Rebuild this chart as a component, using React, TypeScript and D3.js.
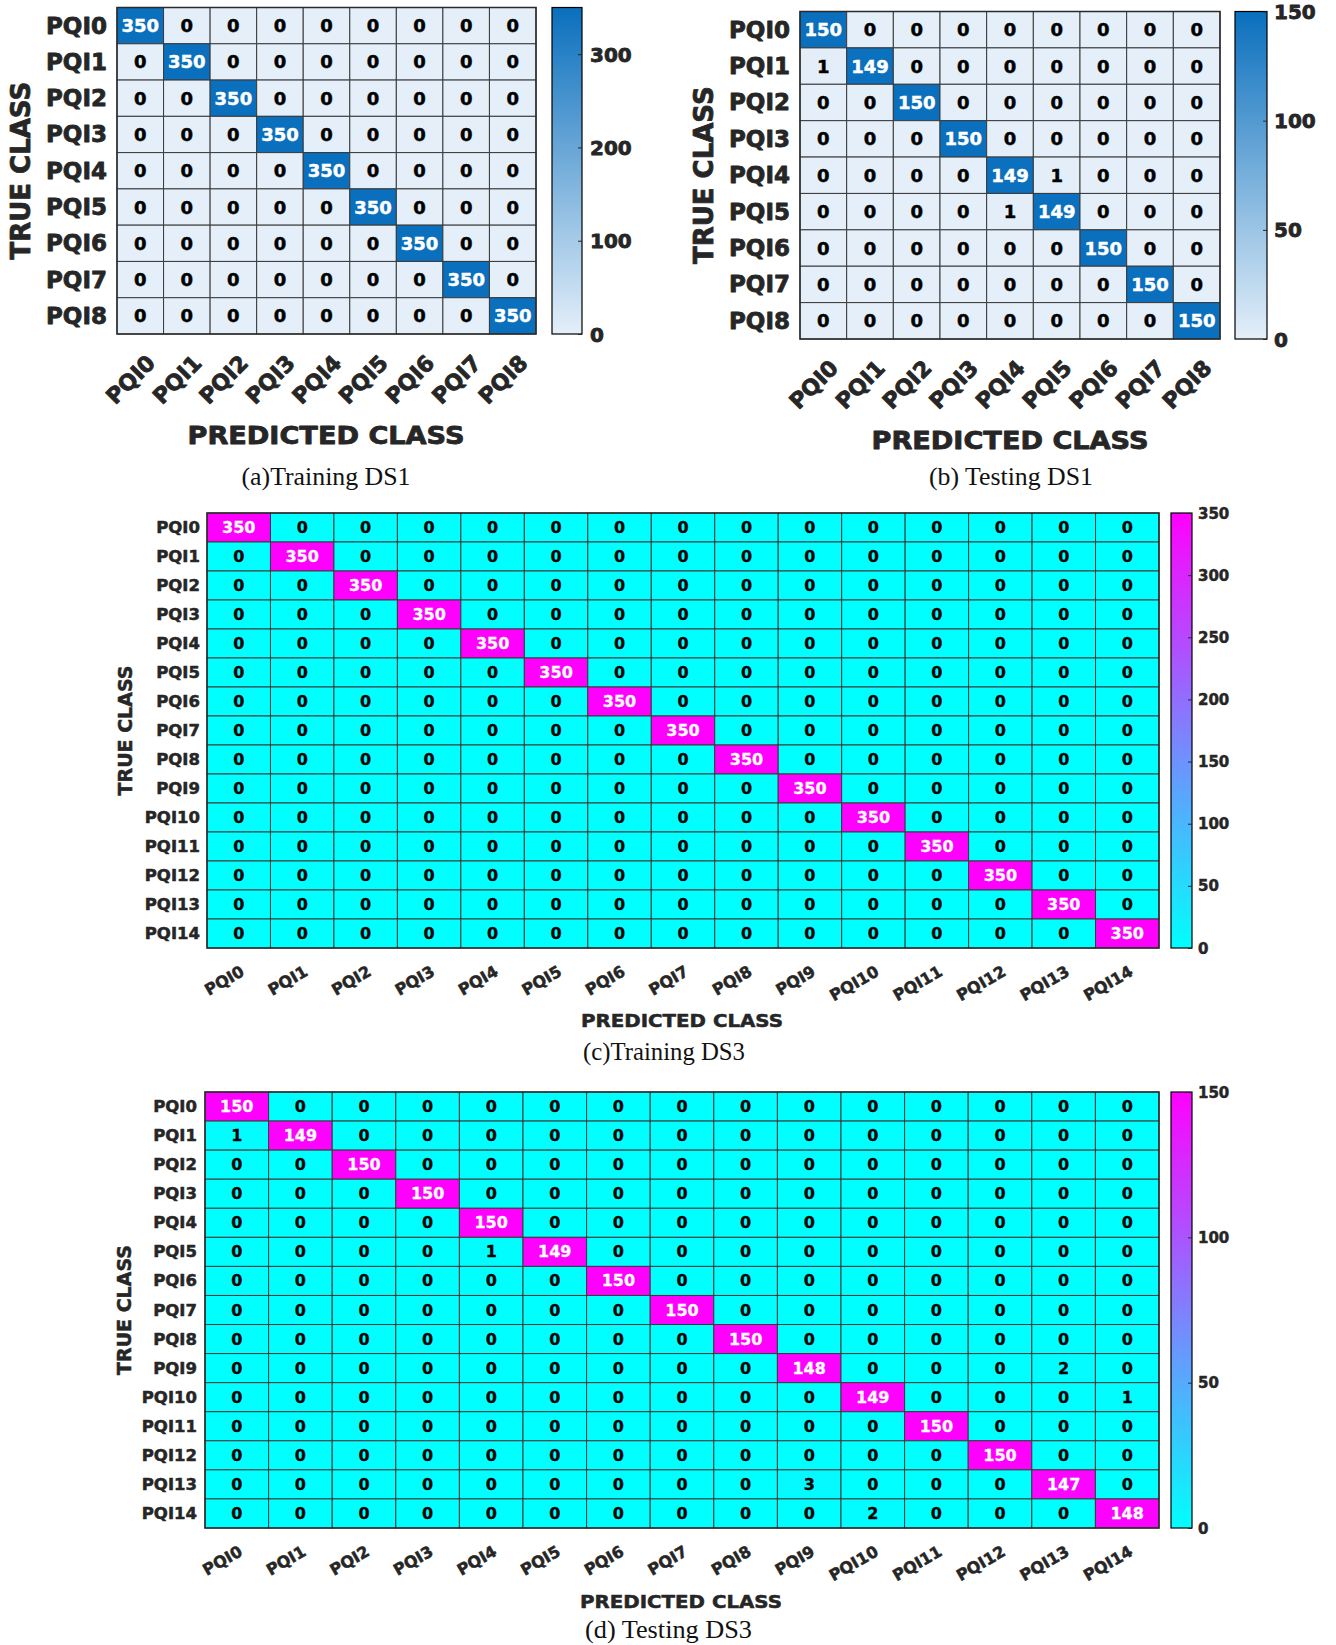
import React, { useEffect, useRef } from "react";
import * as d3 from "d3";

// class names
const CLASSES_9 = ["PQI0", "PQI1", "PQI2", "PQI3", "PQI4", "PQI5", "PQI6", "PQI7", "PQI8"];
const CLASSES_15 = [
  "PQI0", "PQI1", "PQI2", "PQI3", "PQI4", "PQI5", "PQI6", "PQI7",
  "PQI8", "PQI9", "PQI10", "PQI11", "PQI12", "PQI13", "PQI14",
];

// confusion matrices (rows = true class, cols = predicted class)
const TRAIN_DS1 = [
  [350, 0, 0, 0, 0, 0, 0, 0, 0],
  [0, 350, 0, 0, 0, 0, 0, 0, 0],
  [0, 0, 350, 0, 0, 0, 0, 0, 0],
  [0, 0, 0, 350, 0, 0, 0, 0, 0],
  [0, 0, 0, 0, 350, 0, 0, 0, 0],
  [0, 0, 0, 0, 0, 350, 0, 0, 0],
  [0, 0, 0, 0, 0, 0, 350, 0, 0],
  [0, 0, 0, 0, 0, 0, 0, 350, 0],
  [0, 0, 0, 0, 0, 0, 0, 0, 350],
];

const TEST_DS1 = [
  [150, 0, 0, 0, 0, 0, 0, 0, 0],
  [1, 149, 0, 0, 0, 0, 0, 0, 0],
  [0, 0, 150, 0, 0, 0, 0, 0, 0],
  [0, 0, 0, 150, 0, 0, 0, 0, 0],
  [0, 0, 0, 0, 149, 1, 0, 0, 0],
  [0, 0, 0, 0, 1, 149, 0, 0, 0],
  [0, 0, 0, 0, 0, 0, 150, 0, 0],
  [0, 0, 0, 0, 0, 0, 0, 150, 0],
  [0, 0, 0, 0, 0, 0, 0, 0, 150],
];

const TRAIN_DS3 = [
  [350, 0, 0, 0, 0, 0, 0, 0, 0, 0, 0, 0, 0, 0, 0],
  [0, 350, 0, 0, 0, 0, 0, 0, 0, 0, 0, 0, 0, 0, 0],
  [0, 0, 350, 0, 0, 0, 0, 0, 0, 0, 0, 0, 0, 0, 0],
  [0, 0, 0, 350, 0, 0, 0, 0, 0, 0, 0, 0, 0, 0, 0],
  [0, 0, 0, 0, 350, 0, 0, 0, 0, 0, 0, 0, 0, 0, 0],
  [0, 0, 0, 0, 0, 350, 0, 0, 0, 0, 0, 0, 0, 0, 0],
  [0, 0, 0, 0, 0, 0, 350, 0, 0, 0, 0, 0, 0, 0, 0],
  [0, 0, 0, 0, 0, 0, 0, 350, 0, 0, 0, 0, 0, 0, 0],
  [0, 0, 0, 0, 0, 0, 0, 0, 350, 0, 0, 0, 0, 0, 0],
  [0, 0, 0, 0, 0, 0, 0, 0, 0, 350, 0, 0, 0, 0, 0],
  [0, 0, 0, 0, 0, 0, 0, 0, 0, 0, 350, 0, 0, 0, 0],
  [0, 0, 0, 0, 0, 0, 0, 0, 0, 0, 0, 350, 0, 0, 0],
  [0, 0, 0, 0, 0, 0, 0, 0, 0, 0, 0, 0, 350, 0, 0],
  [0, 0, 0, 0, 0, 0, 0, 0, 0, 0, 0, 0, 0, 350, 0],
  [0, 0, 0, 0, 0, 0, 0, 0, 0, 0, 0, 0, 0, 0, 350],
];

const TEST_DS3 = [
  [150, 0, 0, 0, 0, 0, 0, 0, 0, 0, 0, 0, 0, 0, 0],
  [1, 149, 0, 0, 0, 0, 0, 0, 0, 0, 0, 0, 0, 0, 0],
  [0, 0, 150, 0, 0, 0, 0, 0, 0, 0, 0, 0, 0, 0, 0],
  [0, 0, 0, 150, 0, 0, 0, 0, 0, 0, 0, 0, 0, 0, 0],
  [0, 0, 0, 0, 150, 0, 0, 0, 0, 0, 0, 0, 0, 0, 0],
  [0, 0, 0, 0, 1, 149, 0, 0, 0, 0, 0, 0, 0, 0, 0],
  [0, 0, 0, 0, 0, 0, 150, 0, 0, 0, 0, 0, 0, 0, 0],
  [0, 0, 0, 0, 0, 0, 0, 150, 0, 0, 0, 0, 0, 0, 0],
  [0, 0, 0, 0, 0, 0, 0, 0, 150, 0, 0, 0, 0, 0, 0],
  [0, 0, 0, 0, 0, 0, 0, 0, 0, 148, 0, 0, 0, 2, 0],
  [0, 0, 0, 0, 0, 0, 0, 0, 0, 0, 149, 0, 0, 0, 1],
  [0, 0, 0, 0, 0, 0, 0, 0, 0, 0, 0, 150, 0, 0, 0],
  [0, 0, 0, 0, 0, 0, 0, 0, 0, 0, 0, 0, 150, 0, 0],
  [0, 0, 0, 0, 0, 0, 0, 0, 0, 3, 0, 0, 0, 147, 0],
  [0, 0, 0, 0, 0, 0, 0, 0, 0, 0, 2, 0, 0, 0, 148],
];

const TICKS_350_BIG = [0, 100, 200, 300];
const TICKS_150 = [0, 50, 100, 150];
const TICKS_350_FINE = [0, 50, 100, 150, 200, 250, 300, 350];

const W = 1336;
const H = 1645;
const FONT = "'DejaVu Sans', Arial, sans-serif";
const SERIF = "'Liberation Serif', 'Times New Roman', serif";
const INK = "#262626";

const BLUES = ["#e4eff9", "#0a6fbd"];
const COOL = ["#00ffff", "#ff00ff"];

const panels = [
  {
    id: "a", data: TRAIN_DS1, labels: CLASSES_9, max: 350, ticks: TICKS_350_BIG, colors: BLUES,
    x0: 117, x1: 536, y0: 7.5, y1: 334,
    cellFont: 18, yFont: 23, yPad: 10, xFont: 22, xRot: -45, xdx: 11, xdy: 25,
    trueX: 21, trueFont: 26, heavy: 0.8,
    predX: 326, predY: 444, predFont: 24, predW: 277,
    title: "(a)Training DS1", titleX: 326, titleY: 485, titleFont: 26, titleW: 169, titleAnchor: "middle",
    cb0: 552, cb1: 582, cbFont: 20, cbPad: 8,
  },
  {
    id: "b", data: TEST_DS1, labels: CLASSES_9, max: 150, ticks: TICKS_150, colors: BLUES,
    x0: 800, x1: 1220, y0: 11.5, y1: 339,
    cellFont: 18, yFont: 23, yPad: 10, xFont: 22, xRot: -45, xdx: 11, xdy: 25,
    trueX: 704, trueFont: 26, heavy: 0.8,
    predX: 1010, predY: 449, predFont: 24, predW: 277,
    title: "(b) Testing DS1", titleX: 1011, titleY: 485, titleFont: 26, titleW: 164, titleAnchor: "middle",
    cb0: 1235, cb1: 1267, cbFont: 20, cbPad: 7,
  },
  {
    id: "c", data: TRAIN_DS3, labels: CLASSES_15, max: 350, ticks: TICKS_350_FINE, colors: COOL,
    x0: 207, x1: 1159, y0: 513, y1: 948,
    cellFont: 16, yFont: 16.5, yPad: 7, xFont: 16, xRot: -30, xdx: 4, xdy: 22,
    trueX: 125, trueFont: 19, heavy: 0.5,
    predX: 682, predY: 1027, predFont: 17, predW: 202,
    title: "(c)Training DS3", titleX: 583, titleY: 1060, titleFont: 26, titleW: 162, titleAnchor: "start",
    cb0: 1171, cb1: 1192, cbFont: 15, cbPad: 6,
  },
  {
    id: "d", data: TEST_DS3, labels: CLASSES_15, max: 150, ticks: TICKS_150, colors: COOL,
    x0: 205, x1: 1159, y0: 1092, y1: 1528,
    cellFont: 16, yFont: 16.5, yPad: 8, xFont: 16, xRot: -30, xdx: 4, xdy: 22,
    trueX: 124, trueFont: 19, heavy: 0.5,
    predX: 681, predY: 1608, predFont: 17, predW: 202,
    title: "(d) Testing DS3", titleX: 585, titleY: 1638, titleFont: 26, titleW: 167, titleAnchor: "start",
    cb0: 1171, cb1: 1192, cbFont: 15, cbPad: 6,
  },
];

// bold sans labels, thickened a bit to look like the heavy face of the original
function heavyText(sel: any, size: number, fill: string, heavy: number) {
  return sel
    .attr("font-family", FONT)
    .attr("font-weight", "bold")
    .attr("font-size", size)
    .attr("fill", fill)
    .attr("stroke", fill)
    .attr("stroke-width", heavy)
    .attr("stroke-linejoin", "round");
}

function drawPanel(svg: any, p: any) {
  const g = svg.append("g").attr("class", "panel-" + p.id);
  const x = d3.scaleBand().domain(p.labels).range([p.x0, p.x1]);
  const y = d3.scaleBand().domain(p.labels).range([p.y0, p.y1]);
  const color = d3
    .scaleLinear<string>()
    .domain([0, p.max])
    .range(p.colors)
    .interpolate(d3.interpolateRgb);

  const cells = p.data.flatMap((row: number[], i: number) =>
    row.map((v, j) => ({ r: p.labels[i], c: p.labels[j], v }))
  );

  g.selectAll("rect.cell")
    .data(cells)
    .join("rect")
    .attr("class", "cell")
    .attr("x", (d: any) => x(d.c))
    .attr("y", (d: any) => y(d.r))
    .attr("width", x.bandwidth())
    .attr("height", y.bandwidth())
    .attr("fill", (d: any) => color(d.v))
    .attr("stroke", "#3a3a3a")
    .attr("stroke-width", 1);

  g.selectAll("text.val")
    .data(cells)
    .join("text")
    .attr("class", "val")
    .attr("x", (d: any) => x(d.c)! + x.bandwidth() / 2)
    .attr("y", (d: any) => y(d.r)! + y.bandwidth() / 2)
    .attr("text-anchor", "middle")
    .attr("dominant-baseline", "central")
    .attr("font-family", FONT)
    .attr("font-weight", "bold")
    .attr("font-size", p.cellFont)
    .attr("fill", (d: any) => (d.v > p.max / 2 ? "#ffffff" : "#000000"))
    .attr("stroke", (d: any) => (d.v > p.max / 2 ? "#ffffff" : "#000000"))
    .attr("stroke-width", p.heavy * 0.6)
    .text((d: any) => d.v);

  // outer frame
  g.append("rect")
    .attr("x", p.x0)
    .attr("y", p.y0)
    .attr("width", p.x1 - p.x0)
    .attr("height", p.y1 - p.y0)
    .attr("fill", "none")
    .attr("stroke", "#2a2a2a")
    .attr("stroke-width", 1.5);

  // y axis (true class)
  const yAxis = d3.axisLeft(y).tickSize(0).tickPadding(p.yPad);
  const ya = g.append("g").attr("transform", `translate(${p.x0},0)`).call(yAxis);
  ya.select(".domain").remove();
  heavyText(ya.selectAll("text"), p.yFont, INK, p.heavy)
    .attr("dy", null)
    .attr("dominant-baseline", "central");

  // x axis (predicted class), rotated labels
  const xAxis = d3.axisBottom(x).tickSize(0);
  const xa = g.append("g").attr("transform", `translate(0,${p.y1})`).call(xAxis);
  xa.select(".domain").remove();
  heavyText(xa.selectAll("text"), p.xFont, INK, p.heavy)
    .attr("text-anchor", "end")
    .attr("dominant-baseline", "central")
    .attr("dy", null)
    .attr("x", p.xdx)
    .attr("y", p.xdy)
    .attr("transform", `rotate(${p.xRot},${p.xdx},${p.xdy})`);

  // axis titles
  heavyText(g.append("text"), p.trueFont, INK, p.heavy)
    .attr("transform", `translate(${p.trueX},${(p.y0 + p.y1) / 2}) rotate(-90)`)
    .attr("text-anchor", "middle")
    .attr("dominant-baseline", "central")
    .text("TRUE CLASS");

  heavyText(g.append("text"), p.predFont, INK, p.heavy)
    .attr("x", p.predX)
    .attr("y", p.predY)
    .attr("text-anchor", "middle")
    .attr("textLength", p.predW)
    .attr("lengthAdjust", "spacingAndGlyphs")
    .text("PREDICTED CLASS");

  g.append("text")
    .attr("x", p.titleX)
    .attr("y", p.titleY)
    .attr("text-anchor", p.titleAnchor)
    .attr("font-family", SERIF)
    .attr("font-size", p.titleFont)
    .attr("fill", "#111")
    .attr("textLength", p.titleW)
    .attr("lengthAdjust", "spacingAndGlyphs")
    .text(p.title);

  // colorbar
  const gradId = "grad-" + p.id;
  const grad = svg
    .select("defs")
    .append("linearGradient")
    .attr("id", gradId)
    .attr("x1", 0)
    .attr("y1", 1)
    .attr("x2", 0)
    .attr("y2", 0);
  d3.range(0, 1.0001, 0.1).forEach((t) => {
    grad.append("stop").attr("offset", t).attr("stop-color", color(t * p.max));
  });

  g.append("rect")
    .attr("x", p.cb0)
    .attr("y", p.y0)
    .attr("width", p.cb1 - p.cb0)
    .attr("height", p.y1 - p.y0)
    .attr("fill", `url(#${gradId})`)
    .attr("stroke", "#000")
    .attr("stroke-width", 1.2);

  const cbScale = d3.scaleLinear().domain([0, p.max]).range([p.y1, p.y0]);
  const cbAxis = d3
    .axisRight(cbScale)
    .tickValues(p.ticks)
    .tickSizeInner(-4)
    .tickSizeOuter(0)
    .tickPadding(p.cbPad)
    .tickFormat((d: any) => d);
  const cb = g.append("g").attr("transform", `translate(${p.cb1},0)`).call(cbAxis);
  cb.select(".domain").remove();
  cb.selectAll("line").attr("stroke", INK);
  heavyText(cb.selectAll("text"), p.cbFont, INK, p.heavy)
    .attr("dy", null)
    .attr("dominant-baseline", "central");
}

export default function App() {
  const svgRef = useRef<SVGSVGElement>(null);

  useEffect(() => {
    const svg = d3.select(svgRef.current);
    svg.selectAll("*").remove();
    svg.append("defs");
    svg.append("rect").attr("width", W).attr("height", H).attr("fill", "#fff");
    panels.forEach((p) => drawPanel(svg, p));
  }, []);

  return (
    <svg
      ref={svgRef}
      width={W}
      height={H}
      style={{ position: "absolute", left: 0, top: 0, background: "#fff" }}
    ></svg>
  );
}
